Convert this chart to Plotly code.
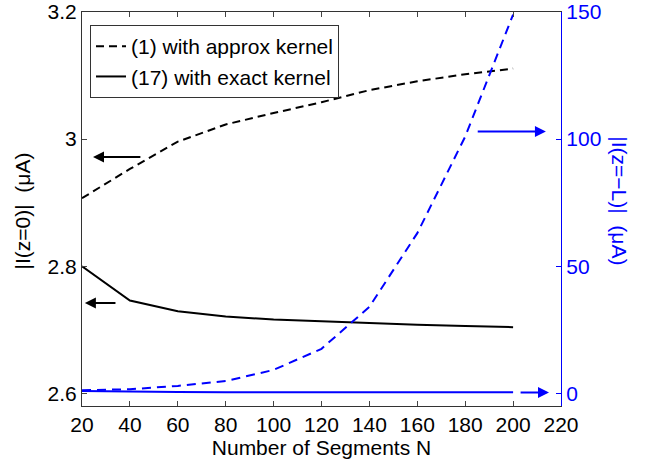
import plotly.graph_objects as go

N = [20, 40, 60, 80, 100, 120, 140, 160, 180, 200]
approx_z0 = [2.907, 2.953, 2.996, 3.023, 3.041, 3.058, 3.077, 3.091, 3.102, 3.111]
exact_z0 = [2.800, 2.746, 2.729, 2.721, 2.716, 2.713, 2.710, 2.708, 2.706, 2.704]
approx_zL = [1.2, 1.6, 2.9, 4.8, 9.2, 17.5, 34.0, 63.0, 101.0, 149.0]
exact_zL = [0.9, 0.6, 0.5, 0.45, 0.4, 0.4, 0.4, 0.4, 0.4, 0.4]

x_ticks = [20, 40, 60, 80, 100, 120, 140, 160, 180, 200, 220]
y_ticks = [2.6, 2.8, 3.0, 3.2]
y_ticktext = ["2.6", "2.8", "3", "3.2"]
y2_ticks = [0, 50, 100, 150]

FONT = "Liberation Sans, Arial, Helvetica, sans-serif"
BLUE = "#0000FF"
FS = 21

fig = go.Figure()
fig.add_trace(go.Scatter(x=N, y=approx_z0, mode="lines", name="(1) with approx kernel",
                         line=dict(color="black", width=2, dash="8px,5px")))
fig.add_trace(go.Scatter(x=N, y=exact_z0, mode="lines", name="(17) with exact kernel",
                         line=dict(color="black", width=2)))
fig.add_trace(go.Scatter(x=N, y=approx_zL, mode="lines", yaxis="y2", showlegend=False,
                         line=dict(color=BLUE, width=2, dash="9px,6px")))
fig.add_trace(go.Scatter(x=N, y=exact_zL, mode="lines", yaxis="y2", showlegend=False,
                         line=dict(color=BLUE, width=2)))

arrows = [
    dict(x=24.6, y=2.972, ax=45, ay=2.972, xref="x", yref="y", axref="x", ayref="y", color="black"),
    dict(x=21.2, y=2.742, ax=34.6, ay=2.742, xref="x", yref="y", axref="x", ayref="y", color="black"),
    dict(x=213.7, y=103, ax=184.6, ay=103, xref="x", yref="y2", axref="x", ayref="y2", color=BLUE),
    dict(x=215, y=0.3, ax=202.5, ay=0.3, xref="x", yref="y2", axref="x", ayref="y2", color=BLUE),
]
for a in arrows:
    fig.add_annotation(x=a["x"], y=a["y"], ax=a["ax"], ay=a["ay"], xref=a["xref"], yref=a["yref"],
                       axref=a["axref"], ayref=a["ayref"], text="", showarrow=True,
                       arrowhead=2, arrowsize=1.1, arrowwidth=2, arrowcolor=a["color"])

fig.add_annotation(text="|I(z=0)|  (μA)", xref="paper", yref="paper", x=-0.125, y=0.494,
                   xanchor="center", yanchor="middle",
                   textangle=-90, showarrow=False, font=dict(family=FONT, size=FS, color="black"))
fig.add_annotation(text="|I(z=−L)|  (μA)", xref="paper", yref="paper", x=1.123, y=0.52,
                   xanchor="center", yanchor="middle",
                   textangle=90, showarrow=False, font=dict(family=FONT, size=FS, color=BLUE))

fig.update_layout(
    width=658, height=459,
    margin=dict(l=82, r=97, t=12, b=53),
    paper_bgcolor="white", plot_bgcolor="white",
    font=dict(family=FONT, size=FS, color="black"),
    xaxis=dict(range=[20, 220], tickvals=x_ticks, ticks="inside", ticklen=5,
               showline=True, linecolor="#333", linewidth=1.2, mirror="ticks",
               showgrid=False, zeroline=False, automargin=False, ticklabeloverflow="allow",
               title=dict(text="Number of Segments N", font=dict(size=FS), standoff=2),
               tickfont=dict(size=FS)),
    yaxis=dict(range=[2.58, 3.2], tickvals=y_ticks, ticktext=y_ticktext, ticks="inside", ticklen=5,
               showline=True, linecolor="#333", linewidth=1.2, showgrid=False, zeroline=False,
               automargin=False, ticklabeloverflow="allow", tickfont=dict(size=FS)),
    yaxis2=dict(range=[-5, 150], tickvals=y2_ticks, overlaying="y", side="right",
                ticks="inside", ticklen=5, tickcolor=BLUE, showline=True, linecolor=BLUE,
                linewidth=1.2, showgrid=False, zeroline=False, automargin=False,
                ticklabeloverflow="allow", tickfont=dict(size=FS, color=BLUE)),
    legend=dict(x=0.0167, y=0.967, xanchor="left", yanchor="top",
                bordercolor="#333", borderwidth=1, bgcolor="white",
                font=dict(size=FS), tracegroupgap=0),
    showlegend=True,
)

fig.write_html("out.html", config={"displayModeBar": False},
               post_script="document.body.style.margin='0';")
